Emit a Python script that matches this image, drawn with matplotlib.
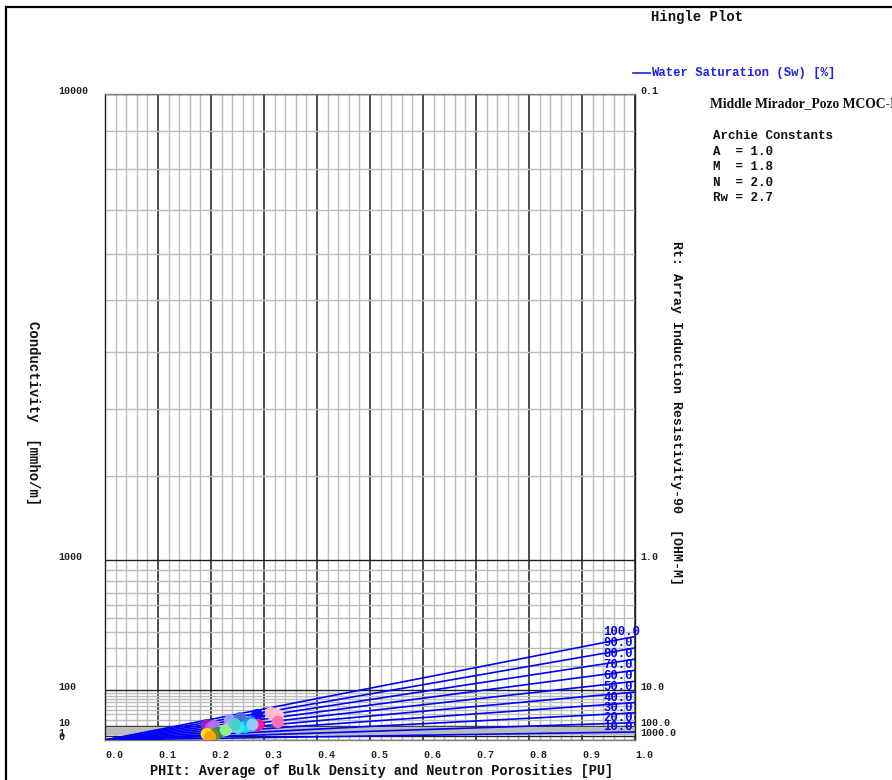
import numpy as np
import matplotlib
matplotlib.use('Agg')
import matplotlib.pyplot as plt
from matplotlib.patches import Rectangle

# ---------------- data ----------------
A_CONST = 1.0
M_CONST = 1.8
N_CONST = 2.0
RW_CONST = 2.7
SW_LEVELS = [100.0, 90.0, 80.0, 70.0, 60.0, 50.0, 40.0, 30.0, 20.0, 10.0]

phi_pts = [0.192, 0.200, 0.206, 0.236, 0.255, 0.287, 0.313, 0.326, 0.326, 0.289,
           0.264, 0.251, 0.274, 0.278, 0.236, 0.221, 0.213, 0.204, 0.192, 0.198,
           0.228, 0.245]
cond_pts = [11.5, 8.0, 10.0, 19.0, 22.5, 28.5, 33.0, 28.5, 16.0, 11.5,
            9.0, 7.7, 16.0, 12.0, 8.9, 4.6, 2.9, 1.6, 2.2, 0.7,
            5.5, 12.5]
pt_colors = ['#8a1fd0', '#e040e0', '#b070e0', '#9a9aff', '#4a6ee0', '#0a0aff',
             '#ffb6c6', '#ffc0cb', '#ff6eb4', '#ff1493', '#00e5ff', '#40e0f0',
             '#1e90ff', '#87cefa', '#ff80ff', '#66cdaa', '#2e8b57', '#6b8e23',
             '#ffe000', '#ffa500', '#90ee90', '#48d1cc']

left_tick_vals = [0, 1, 10, 100, 1000, 10000]
left_tick_labels = ['0', '1', '10', '100', '1000', '10000']
right_tick_vals = [10000, 1000, 100, 10, 1]
right_tick_labels = ['0.1', '1.0', '10.0', '100.0', '1000.0']
x_tick_vals = [0.0, 0.1, 0.2, 0.3, 0.4, 0.5, 0.6, 0.7, 0.8, 0.9, 1.0]
x_tick_labels = ['0.0', '0.1', '0.2', '0.3', '0.4', '0.5', '0.6', '0.7', '0.8', '0.9', '1.0']

title_text = 'Hingle Plot'
legend_text = 'Water Saturation (Sw) [%]'
well_text = 'Middle Mirador_Pozo MCOC-I'
const_lines = ['Archie Constants', 'A  = 1.0', 'M  = 1.8', 'N  = 2.0', 'Rw = 2.7']
xlabel_text = 'PHIt: Average of Bulk Density and Neutron Porosities [PU]'
ylabel_text = 'Conductivity  [mmho/m]'
rlabel_text = 'Rt: Array Induction Resistivity-90  [OHM-M]'

# ---------------- figure ----------------
W, H, DPI = 892, 780, 100
fig = plt.figure(figsize=(W / DPI, H / DPI), dpi=DPI)
fig.patch.set_facecolor('white')

L, R, T, B = 105, 635, 94, 740
ax = fig.add_axes([L / W, 1 - B / H, (R - L) / W, (B - T) / H])

MONO = 'Liberation Mono'


def fwd(c):
    c = np.asarray(c, dtype=float)
    return np.sign(c) * np.abs(c) ** (1.0 / M_CONST)


def inv(u):
    u = np.asarray(u, dtype=float)
    return np.sign(u) * np.abs(u) ** M_CONST


ax.set_yscale('function', functions=(fwd, inv))
ax.set_xlim(0, 1)
ax.set_ylim(0, 10000)

# grid
minor_y = []
for dec in [1, 10, 100, 1000]:
    minor_y += [dec * k for k in range(2, 10)]
ax.set_yticks(left_tick_vals)
ax.set_yticks(minor_y, minor=True)
ax.set_xticks(x_tick_vals)
ax.set_xticks(np.arange(0, 1.0001, 0.02), minor=True)
ax.grid(which='minor', color='#bcbcbc', linewidth=1.0, zorder=0)
ax.grid(which='major', axis='x', color='#404040', linewidth=1.3, zorder=0)
ax.grid(which='major', axis='y', color='#202020', linewidth=1.0, zorder=0)
ax.set_axisbelow(True)

ax.set_xticklabels(x_tick_labels, fontfamily=MONO, fontsize=7.2, fontweight='bold',
                   ha='left', color='#222222')
ax.set_yticklabels(left_tick_labels, fontfamily=MONO, fontsize=7.2, fontweight='bold',
                   ha='left', va='baseline', color='#222222')
ax.tick_params(axis='both', which='both', length=0)
ax.tick_params(axis='x', pad=7)
ax.tick_params(axis='y', pad=47 * 72 / DPI)

for s in ['left', 'right']:
    ax.spines[s].set_color('#202020')
    ax.spines[s].set_linewidth(1.0)
for s in ['top', 'bottom']:
    ax.spines[s].set_color('#808080')
    ax.spines[s].set_linewidth(1.0)

# Sw lines (Archie)
phi_line = np.linspace(0, 1, 200)
for sw in SW_LEVELS:
    s = sw / 100.0
    c_line = 1000.0 * phi_line ** M_CONST * s ** N_CONST / (A_CONST * RW_CONST)
    ax.plot(phi_line, c_line, color='#0000ff', linewidth=1.2, zorder=3)
    ax.annotate(f'{sw:.1f}', xy=(0.94, c_line[-1]), xytext=(0, 3.5),
                textcoords='offset points', fontfamily=MONO, fontsize=8.8,
                fontweight='bold', color='#0000ee', ha='left', va='center',
                zorder=4, annotation_clip=False)

# points
ax.scatter(phi_pts, cond_pts, s=78, c=pt_colors, edgecolors='none', zorder=5,
           clip_on=True)

# right axis
ax2 = ax.twinx()
ax2.set_yscale('function', functions=(fwd, inv))
ax2.set_ylim(0, 10000)
ax2.set_yticks(right_tick_vals)
ax2.set_yticklabels(right_tick_labels, fontfamily=MONO, fontsize=7.2, fontweight='bold',
                    va='baseline', color='#222222')
ax2.tick_params(axis='y', length=0, pad=4)
for s in ax2.spines.values():
    s.set_visible(False)

# axis labels
fig.text(382 / W, 1 - 771 / H, xlabel_text, fontfamily=MONO, fontsize=9.8,
         fontweight='bold', ha='center', va='center', color='#111111')
fig.text(33 / W, 1 - 413 / H, ylabel_text, fontfamily=MONO, fontsize=10,
         fontweight='bold', ha='center', va='center', rotation=270, color='#111111')
fig.text(676 / W, 1 - 413 / H, rlabel_text, fontfamily=MONO, fontsize=9.5,
         fontweight='bold', ha='center', va='center', rotation=270, color='#111111')

# title / legend / annotations
fig.text(651 / W, 1 - 17 / H, title_text, fontfamily=MONO, fontsize=10,
         fontweight='bold', ha='left', va='center', color='#111111')
fig.add_artist(plt.Line2D([633 / W, 650 / W], [1 - 73 / H, 1 - 73 / H],
                          color='#2020e0', linewidth=1.2))
fig.text(651 / W, 1 - 73 / H, legend_text, fontfamily=MONO, fontsize=8.8,
         fontweight='bold', ha='left', va='center', color='#2020e0')
fig.text(710 / W, 1 - 104 / H, well_text, fontfamily='Liberation Serif', fontsize=9.8,
         fontweight='bold', ha='left', va='center', color='#111111')
for i, line in enumerate(const_lines):
    fig.text(713 / W, 1 - (136 + i * 15.6) / H, line, fontfamily=MONO, fontsize=9,
             fontweight='bold', ha='left', va='center', color='#111111')

# outer frame
fig.add_artist(Rectangle((6 / W, -0.05), 1.2, 1 - 7 / H + 0.05,
                         transform=fig.transFigure, fill=False,
                         edgecolor='black', linewidth=1.6))

fig.savefig('out.png', dpi=DPI, facecolor='white')
